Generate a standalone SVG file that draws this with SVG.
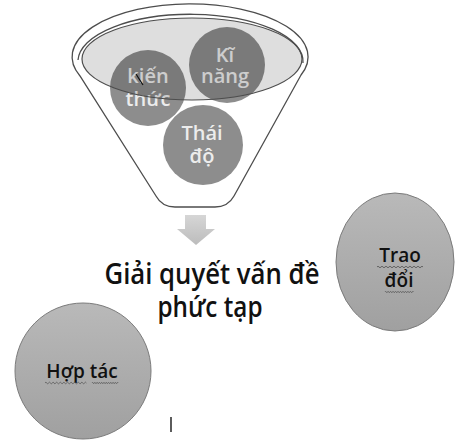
<svg xmlns="http://www.w3.org/2000/svg" width="455" height="440" viewBox="0 0 455 440">
  <defs>
    <linearGradient id="ballFill" x1="0" y1="0" x2="0" y2="1">
      <stop offset="0" stop-color="#b9b9b9"/>
      <stop offset="1" stop-color="#a0a0a0"/>
    </linearGradient>
    <linearGradient id="arrowFill" x1="0" y1="0" x2="0" y2="1">
      <stop offset="0" stop-color="#d6d6d6"/>
      <stop offset="1" stop-color="#bcbcbc"/>
    </linearGradient>
    <path id="squiggle" d="M0,0 q1,-1.6 2,0 t2,0 t2,0 t2,0 t2,0 t2,0 t2,0 t2,0 t2,0 t2,0 t2,0 t2,0 t2,0 t2,0 t2,0 t2,0 t2,0 t2,0 t2,0 t2,0 t2,0 t2,0 t2,0"/>
  </defs>
  <style>
    .outline { fill: none; stroke: #4d4d4d; stroke-width: 1.3; }
    .ingredient { fill: #8d8d8d; }
    .ingredient-text { font-family: "Open Sans", "Liberation Sans", sans-serif; font-size: 20px; font-weight: 600; fill: #ececec; text-anchor: middle; }
    .mouth { fill: #000; fill-opacity: 0.13; stroke: #4d4d4d; stroke-width: 1.2; }
    .ball { fill: url(#ballFill); stroke: #7b7b7b; stroke-width: 1; }
    .ball-text { font-family: "Open Sans", "Liberation Sans", sans-serif; font-size: 19px; font-weight: 600; fill: #111; text-anchor: middle; }
    .title { font-family: "Open Sans", "Liberation Sans", sans-serif; font-size: 29px; font-weight: 600; fill: #111; text-anchor: middle; }
    .wave { fill: none; stroke: #5a5a5a; stroke-width: 0.9; }
  </style>

  <!-- funnel body -->
  <g id="funnel">
    <path d="M80,76 A118,53 0 1 1 301,75 L234,196 Q228,207 215,207 L175,207 Q162,207 156,196 Z" fill="#fff" stroke="#4d4d4d" stroke-width="1.3"/>
    <path class="outline" d="M78,60 A112,47 0 0 1 303,63"/>
  </g>

  <!-- ingredients inside the funnel -->
  <g id="kien-thuc">
    <circle class="ingredient" cx="148" cy="88" r="38"/>
    <text class="ingredient-text" x="148" y="83">kiến</text>
    <text class="ingredient-text" x="148" y="106">thức</text>
    <line x1="136" y1="74" x2="143" y2="85" stroke="#111" stroke-width="1.2"/>
  </g>
  <g id="ki-nang">
    <circle class="ingredient" cx="227" cy="65" r="38"/>
    <text class="ingredient-text" x="225" y="62">Kĩ</text>
    <text class="ingredient-text" x="225" y="83">năng</text>
  </g>
  <g id="thai-do">
    <circle class="ingredient" cx="203" cy="145" r="40"/>
    <text class="ingredient-text" x="202" y="140">Thái</text>
    <text class="ingredient-text" x="202" y="163">độ</text>
  </g>

  <!-- translucent mouth of the funnel -->
  <g id="funnel-mouth">
    <ellipse class="mouth" cx="192" cy="59" rx="110" ry="41"/>
  </g>

  <!-- output arrow -->
  <g id="connectors">
    <path d="M185,215 H206 V229 H215 L196,245 L177,229 H185 Z" fill="url(#arrowFill)"/>
  </g>

  <g id="result">
    <text class="title" x="212" y="284" textLength="215" lengthAdjust="spacingAndGlyphs">Giải quyết vấn đề</text>
    <text class="title" x="210" y="317" textLength="105" lengthAdjust="spacingAndGlyphs">phức tạp</text>
  </g>

  <g id="trao-doi">
    <ellipse class="ball" cx="395" cy="262" rx="59" ry="69"/>
    <text class="ball-text" x="400" y="262">Trao</text>
    <text class="ball-text" x="399" y="287">đổi</text>
    <use href="#squiggle" class="wave" transform="translate(377,267)"/>
    <use href="#squiggle" class="wave" transform="translate(385,292) scale(0.62,1)"/>
  </g>

  <g id="hop-tac">
    <circle class="ball" cx="83" cy="371" r="68"/>
    <text class="ball-text" x="82" y="378">Hợp tác</text>
    <use href="#squiggle" class="wave" transform="translate(45,383) scale(0.9,1)"/>
    <use href="#squiggle" class="wave" transform="translate(92,383) scale(0.57,1)"/>
  </g>

  <!-- text caret -->
  <line x1="171" y1="417" x2="171" y2="432" stroke="#333" stroke-width="1.6"/>
</svg>
